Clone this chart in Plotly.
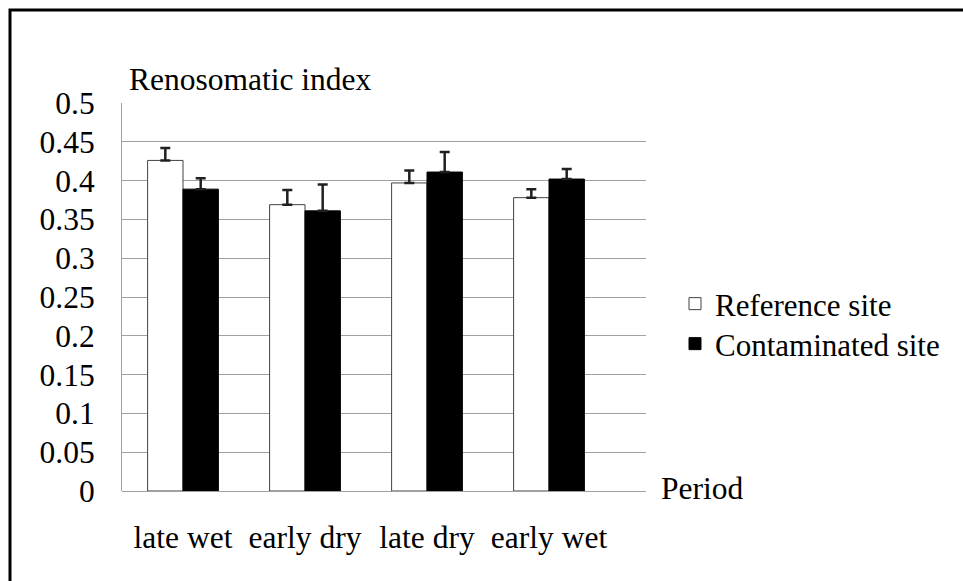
import plotly.graph_objects as go

periods = ["late wet", "early dry", "late dry", "early wet"]
reference_vals = [0.426, 0.369, 0.397, 0.378]
reference_err = [0.016, 0.019, 0.016, 0.011]
contam_vals = [0.389, 0.361, 0.411, 0.402]
contam_err = [0.014, 0.034, 0.026, 0.013]
y_ticks = [0, 0.05, 0.1, 0.15, 0.2, 0.25, 0.3, 0.35, 0.4, 0.45, 0.5]
y_tick_text = ["0", "0.05", "0.1", "0.15", "0.2", "0.25", "0.3", "0.35", "0.4", "0.45", "0.5"]

W, H = 963, 581
L, R, T, B = 122, 317, 103, 90
PW, PH = W - L - R, H - T - B

def px(p):
    return (p - L) / PW

def py(q):
    return (H - B - q) / PH

FONT = "Liberation Serif"
FS = 31.5

fig = go.Figure()
fig.add_trace(go.Bar(
    x=periods, y=reference_vals, name="Reference site", legend="legend",
    marker=dict(color="white", line=dict(color="#404040", width=1)),
    error_y=dict(type="data", array=reference_err, symmetric=False,
                 arrayminus=[0] * len(reference_err),
                 color="#202020", thickness=2.5, width=5),
))
fig.add_trace(go.Bar(
    x=periods, y=contam_vals, name="Contaminated site", legend="legend2",
    marker=dict(color="black", line=dict(color="black", width=1)),
    error_y=dict(type="data", array=contam_err, symmetric=False,
                 arrayminus=[0] * len(contam_err),
                 color="#202020", thickness=2.5, width=5),
))

legend_style = dict(xanchor="left", yanchor="middle",
                    font=dict(family=FONT, size=31, color="black"),
                    bgcolor="rgba(0,0,0,0)", itemwidth=30)

fig.update_layout(
    width=W, height=H,
    margin=dict(l=L, r=R, t=T, b=B),
    paper_bgcolor="white", plot_bgcolor="white",
    font=dict(family=FONT, size=FS, color="black"),
    barmode="group", bargap=0.42, bargroupgap=0,
    showlegend=True,
    legend=dict(x=px(675), y=py(304), **legend_style),
    legend2=dict(x=px(675), y=py(344), **legend_style),
    xaxis=dict(type="category", range=[-0.5, -0.5 + PW / 122.0],
               showgrid=False, showline=False, ticks="",
               tickfont=dict(family=FONT, size=FS, color="black"),
               ticklabelstandoff=24),
    yaxis=dict(range=[0, 0.5], tickvals=y_ticks, ticktext=y_tick_text,
               showgrid=True, gridcolor="#a0a0a0", gridwidth=1,
               showline=True, linecolor="#a0a0a0", linewidth=1,
               zeroline=True, zerolinecolor="#a0a0a0", zerolinewidth=1,
               ticks="", ticklabelstandoff=20,
               tickfont=dict(family=FONT, size=FS, color="black")),
    annotations=[
        dict(text="Renosomatic index", xref="paper", yref="paper",
             x=px(127), y=py(79), xanchor="left", yanchor="middle",
             showarrow=False, font=dict(family=FONT, size=FS, color="black")),
        dict(text="Period", xref="paper", yref="paper",
             x=px(659), y=py(488), xanchor="left", yanchor="middle",
             showarrow=False, font=dict(family=FONT, size=FS, color="black")),
    ],
    shapes=[
        dict(type="rect", xref="paper", yref="paper",
             x0=px(10), x1=px(968), y0=py(10), y1=py(590),
             line=dict(color="black", width=3), fillcolor="rgba(0,0,0,0)",
             layer="above"),
    ],
)

fig.write_html("out.html", config={"displayModeBar": False},
               post_script="document.body.style.margin='0';")
